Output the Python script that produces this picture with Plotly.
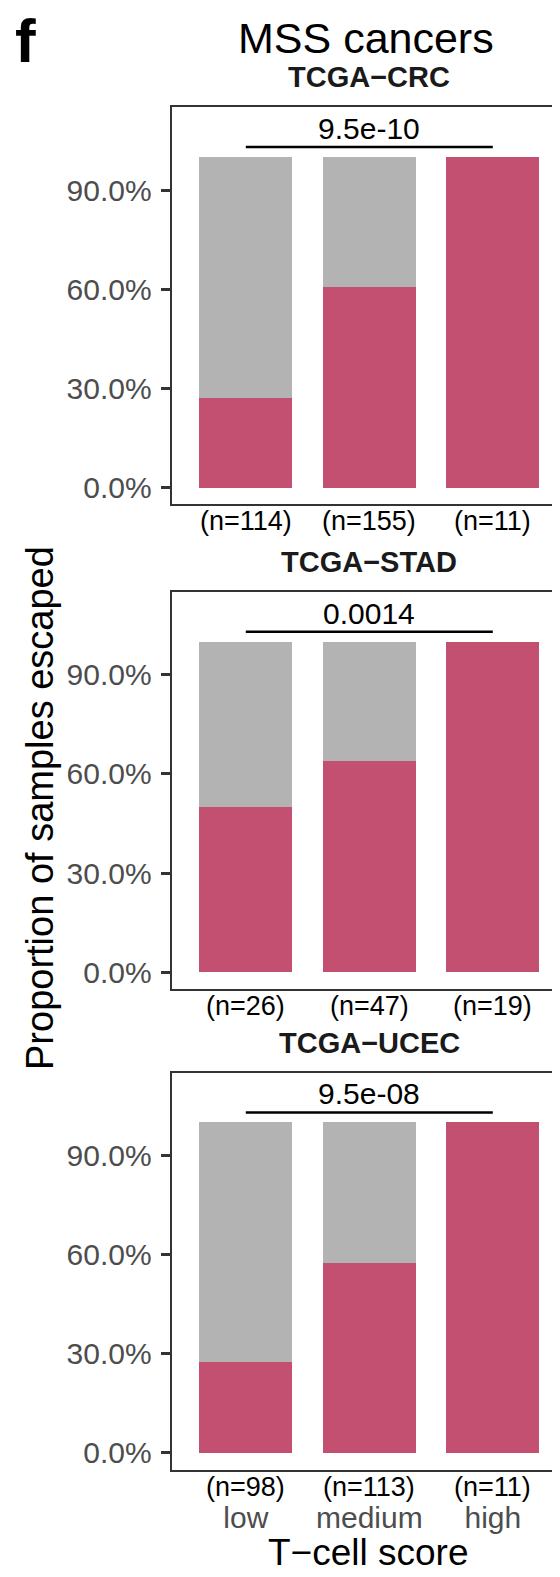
import plotly.graph_objects as go

# ---------------- data ----------------
categories = ["low", "medium", "high"]
cohorts = ["TCGA−CRC", "TCGA−STAD", "TCGA−UCEC"]
n_crc = [114, 155, 11]
n_stad = [26, 47, 19]
n_ucec = [98, 113, 11]
escaped_crc = [0.272, 0.606, 1.0]
escaped_stad = [0.500, 0.638, 1.0]
escaped_ucec = [0.275, 0.575, 1.0]
p_values = ["9.5e-10", "0.0014", "9.5e-08"]
y_tick_vals = [0.0, 0.3, 0.6, 0.9]
y_tick_text = ["0.0%", "30.0%", "60.0%", "90.0%"]

n_all = [n_crc, n_stad, n_ucec]
escaped_all = [escaped_crc, escaped_stad, escaped_ucec]

# ---------------- style / layout ----------------
OFF = 8  # default page body margin
W, H = 560 - OFF, 1577 - OFF
RED = "#C35071"
GREY = "#B3B3B3"
AXC = "#333333"
TICKC = "#4D4D4D"
FONT = "Liberation Sans, Arial, Helvetica, sans-serif"

PANEL_TOP = [107.3, 592.0, 1072.7]
PANEL_BOTTOM = [504.3, 989.0, 1469.5]
X_LEFT = 171.7
BRACKET_Y = 1.03


def py(p):
    return 1 - (p - OFF) / H


def pxx(p):
    return (p - OFF) / W


fig = go.Figure()
annotations = []
layout_axes = {}

for i in range(3):
    sfx = "" if i == 0 else str(i + 1)
    xa, ya = "x" + sfx, "y" + sfx
    esc = escaped_all[i]
    rest = [1 - v for v in esc]
    fig.add_trace(go.Bar(x=categories, y=esc, marker=dict(color=RED, line=dict(width=0)),
                         width=0.75, xaxis=xa, yaxis=ya, showlegend=False, hoverinfo="skip"))
    fig.add_trace(go.Bar(x=categories, y=rest, marker=dict(color=GREY, line=dict(width=0)),
                         width=0.75, xaxis=xa, yaxis=ya, showlegend=False, hoverinfo="skip"))
    fig.add_trace(go.Scatter(x=[categories[0], categories[-1]], y=[BRACKET_Y, BRACKET_Y],
                             mode="lines", line=dict(color="black", width=2.5),
                             xaxis=xa, yaxis=ya, showlegend=False, hoverinfo="skip"))

    layout_axes["xaxis" + sfx] = dict(
        domain=[pxx(X_LEFT), 1], range=[-0.6, 2.544], type="category",
        categoryorder="array", categoryarray=categories,
        showline=True, mirror=True, linecolor=AXC, linewidth=2,
        ticks="", showticklabels=(i == 2), showgrid=False, zeroline=False,
        tickfont=dict(size=30, color=TICKC, family=FONT), ticklabelstandoff=20,
        anchor=ya, fixedrange=True,
    )
    layout_axes["yaxis" + sfx] = dict(
        domain=[py(PANEL_BOTTOM[i]), py(PANEL_TOP[i])], range=[-0.05, 1.15],
        tickvals=y_tick_vals, ticktext=y_tick_text, ticks="outside", ticklen=9,
        tickwidth=2.5, tickcolor=AXC, showline=True, linecolor=AXC, linewidth=2,
        tickfont=dict(size=30, color=TICKC, family=FONT), ticklabelstandoff=3,
        showgrid=False, zeroline=False, anchor=xa, fixedrange=True,
    )

    # panel title
    annotations.append(dict(text="<b>" + cohorts[i] + "</b>", xref="paper", yref="paper",
                            x=pxx(369), y=py(PANEL_TOP[i] - 30), xanchor="center", yanchor="middle",
                            showarrow=False, font=dict(size=29, color="#1A1A1A", family=FONT)))
    # p value
    annotations.append(dict(text=p_values[i], xref=xa, yref=ya, x=categories[1], y=BRACKET_Y,
                            xanchor="center", yanchor="bottom", showarrow=False,
                            font=dict(size=30, color="black", family=FONT)))
    # n labels
    for c, n in zip(categories, n_all[i]):
        annotations.append(dict(text=f"(n={n})", xref=xa, yref="paper", x=c,
                                y=py(PANEL_BOTTOM[i] + 17), xanchor="center", yanchor="middle",
                                showarrow=False, font=dict(size=27, color="black", family=FONT)))

annotations.append(dict(text="<b>f</b>", xref="paper", yref="paper", x=pxx(25), y=py(40),
                        xanchor="center", yanchor="middle", showarrow=False,
                        font=dict(size=62, color="black", family=FONT)))
annotations.append(dict(text="MSS cancers", xref="paper", yref="paper", x=pxx(366), y=py(38),
                        xanchor="center", yanchor="middle", showarrow=False,
                        font=dict(size=43, color="black", family=FONT)))
annotations.append(dict(text="Proportion of samples escaped", xref="paper", yref="paper",
                        x=pxx(40), y=py(808), xanchor="center", yanchor="middle", textangle=-90,
                        showarrow=False, font=dict(size=38, color="black", family=FONT)))
annotations.append(dict(text="T−cell score", xref="paper", yref="paper", x=pxx(368), y=py(1552),
                        xanchor="center", yanchor="middle", showarrow=False,
                        font=dict(size=37, color="black", family=FONT)))

fig.update_layout(
    width=W, height=H, margin=dict(l=0, r=0, t=0, b=0),
    paper_bgcolor="white", plot_bgcolor="white", barmode="stack", bargap=0.25,
    showlegend=False, annotations=annotations, font=dict(family=FONT),
    **layout_axes,
)

fig.write_html("out.html")
